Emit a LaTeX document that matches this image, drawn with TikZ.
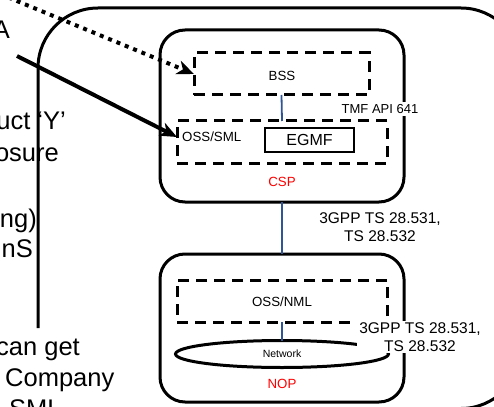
\documentclass[tikz,border=0pt]{standalone}
\usepackage{fontspec}
\setmainfont{Liberation Sans}
\usetikzlibrary{arrows.meta,shapes.geometric}
\definecolor{linkblue}{RGB}{47,85,151}
\definecolor{labelred}{RGB}{255,0,0}
\begin{document}
\begin{tikzpicture}[x=1pt,y=-1pt,
  roundbox/.style={draw, line width=3pt, rounded corners=25pt, rectangle, inner sep=0pt, outer sep=0pt},
  dashbox/.style={draw, line width=3pt, dash pattern=on 11pt off 7pt, rectangle, inner sep=0pt, outer sep=0pt},
  thinbox/.style={draw, line width=1.8pt, rectangle, inner sep=0pt, outer sep=0pt},
  smalltext/.style={font=\fontsize{13.3}{15}\selectfont, inner sep=0pt},
  redtext/.style={font=\fontsize{13.3}{15}\selectfont, text=labelred, inner sep=0pt},
  stdlabel/.style={font=\fontsize{15.5}{17.5}\selectfont, align=center, inner sep=2pt},
  lefttext/.style={font=\fontsize{25.5}{29}\selectfont, inner sep=0pt},
  link/.style={draw=linkblue, line width=1.8pt},
  bigarrow/.style={line width=4pt, -{Stealth[length=17pt,width=14pt,inset=5pt]}},
  dotarrow/.style={line width=4pt, dash pattern=on 4pt off 5pt, -{Stealth[length=17pt,width=14pt,inset=5pt]}}
]
\useasboundingbox (0,0) rectangle (494,406);
\fill[white] (0,0) rectangle (494,406);

% outer enclosing box (lower left part hidden by the text)
\draw[line width=3pt, rounded corners=60pt] (38,328) -- (38,8) -- (521,8) -- (521,408.5) -- (120,408.5);

% CSP
\node[roundbox, minimum width=244pt, minimum height=172pt] (csp) at (282,116) {};
\node[dashbox, minimum width=175pt, minimum height=42pt] (bss) at (281.5,74) {};
\node[smalltext] (bsstext) at (282,76) {BSS};
\node[dashbox, minimum width=210pt, minimum height=42pt] (osssml) at (282,142) {};
\node[smalltext, anchor=west] (osssmltext) at (182,137) {OSS/SML};
\node[thinbox, minimum width=89pt, minimum height=24pt, font=\fontsize{16}{18}\selectfont] (egmf) at (309.5,140) {EGMF};
\node[redtext] (csptext) at (282,182) {CSP};

% NOP
\node[roundbox, minimum width=244pt, minimum height=148pt] (nop) at (282,328) {};
\node[dashbox, minimum width=210pt, minimum height=42pt] (ossnml) at (282,301) {};
\node[smalltext] (ossnmltext) at (282,302) {OSS/NML};
\node[ellipse, draw, line width=3pt, minimum width=213pt, minimum height=27pt, inner sep=0pt, outer sep=0pt,
      font=\fontsize{10.5}{12}\selectfont] (net) at (282,354) {Network};
\node[redtext] (noptext) at (282,384) {NOP};

% links
\draw[link] (bss.south) -- (osssml.north);
\draw[link] (csp.south) -- (nop.north);
\draw[link] (ossnml.south) -- (net.north);

% interface labels
\node[smalltext, fill=white, inner sep=2pt, font=\fontsize{13}{15}\selectfont] (tmf) at (380,109) {TMF API 641};
\node[stdlabel] (gpp1) at (380,227) {3GPP TS 28.531,\\TS 28.532};
\node[stdlabel, fill=white] (gpp2) at (420,337) {3GPP TS 28.531,\\TS 28.532};

% left text fragments
\node[lefttext, anchor=base east] (tA) at (10,39) {A};
\node[lefttext, anchor=base east] (tY) at (66,130) {uct ‘Y’};
\node[lefttext, anchor=base east] (tos) at (59,161) {osure};
\node[lefttext, anchor=base east] (tng) at (37,227) {ng)};
\node[lefttext, anchor=base east] (tnS) at (33,257) {nS};
\node[lefttext, anchor=base east] (tcan) at (80,355) {can get};
\node[lefttext, anchor=base west] (tco) at (5,386) {Company};
\node[lefttext, anchor=base west] (tsml) at (9,417) {SML};

% arrows
\coordinate (dotstart) at (0,-6);
\coordinate (solidstart) at (17,56);
\draw[dotarrow] (dotstart) -- (bss.west);
\draw[bigarrow] (solidstart) -- ([yshift=5pt]osssml.west);
\end{tikzpicture}
\end{document}
